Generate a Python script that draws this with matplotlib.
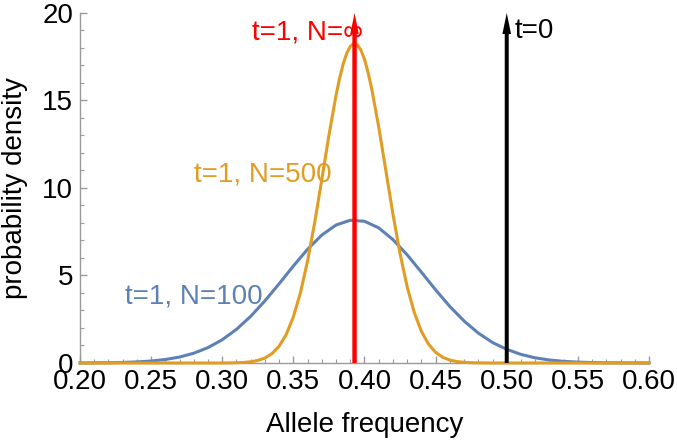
import numpy as np
import matplotlib.pyplot as plt
from matplotlib.ticker import MultipleLocator

plt.rcParams['font.family'] = ['Liberation Sans', 'DejaVu Sans']

# N=100 curve, sampled every 0.01
x100 = np.round(np.arange(0.20, 0.6001, 0.01), 3)
y100 = [0.003, 0.007, 0.015, 0.031, 0.060, 0.112, 0.199, 0.341, 0.559, 0.880,
        1.329, 1.922, 2.668, 3.551, 4.529, 5.543, 6.501, 7.311, 7.885, 8.155,
        8.100, 7.720, 7.050, 6.180, 5.190, 4.180, 3.230, 2.400, 1.710, 1.170,
        0.780, 0.490, 0.295, 0.170, 0.094, 0.050, 0.025, 0.012, 0.005, 0.002, 0.001]

# N=500 curve
x500 = [0.20, 0.29, 0.300, 0.305, 0.310, 0.315, 0.320, 0.325, 0.330, 0.335, 0.340,
        0.345, 0.350, 0.355, 0.360, 0.365, 0.370, 0.375, 0.380, 0.3825, 0.385,
        0.3875, 0.390, 0.3925, 0.395, 0.3975, 0.400, 0.4025, 0.405, 0.410, 0.415,
        0.420, 0.425, 0.430, 0.435, 0.440, 0.445, 0.450, 0.455, 0.460, 0.465,
        0.470, 0.475, 0.480, 0.485, 0.490, 0.50, 0.60]
y500 = [0.0, 0.0, 0.002, 0.005, 0.013, 0.031, 0.069, 0.144, 0.286, 0.539, 0.964,
        1.634, 2.635, 4.026, 5.840, 8.035, 10.49, 13.01, 15.30, 16.27, 17.08,
        17.69, 18.09, 18.26, 18.18, 17.88, 17.35, 16.61, 15.70, 13.49, 11.00,
        8.507, 6.245, 4.353, 2.880, 1.808, 1.076, 0.608, 0.326, 0.166, 0.080,
        0.037, 0.016, 0.007, 0.003, 0.001, 0.0, 0.0]

p_inf = 0.393   # t=1, N=infinity
p0 = 0.50       # t=0
ytop = 20

blue = '#5e81b5'
orange = '#e19c24'
gray = '#9a9a9a'
fs = 20

fig = plt.figure(figsize=(6.77, 4.45), dpi=100)
ax = fig.add_axes([0.1182, 0.1843, 0.8404, 0.7865])

ax.plot(x100, y100, color=blue, lw=2.2, clip_on=False, zorder=3)
ax.plot(x500, y500, color=orange, lw=2.2, clip_on=False, zorder=4)

# delta peaks drawn as arrows
ax.arrow(p_inf, 0, 0, ytop, width=0.0031, head_width=0.0060, head_length=1.2,
         length_includes_head=True, color='#ff0000', lw=0, clip_on=False, zorder=5)
ax.arrow(p0, 0, 0, ytop, width=0.0028, head_width=0.0061, head_length=1.2,
         length_includes_head=True, color='black', lw=0, clip_on=False, zorder=5)

ax.text(0.399, 18.5, 't=1, N=\u221e', color='#ff0000', fontsize=fs,
        ha='right', va='baseline', zorder=4)
ax.text(0.5055, 18.55, 't=0', color='black', fontsize=fs, ha='left', va='baseline')
ax.text(0.280, 10.36, 't=1, N=500', color=orange, fontsize=fs, ha='left', va='baseline')
ax.text(0.2316, 3.41, 't=1, N=100', color=blue, fontsize=fs, ha='left', va='baseline')

ax.set_xlim(0.20, 0.60)
ax.set_ylim(0, ytop)
ax.set_xticks(np.arange(0.20, 0.601, 0.05))
ax.set_xticklabels(['%.2f' % v for v in np.arange(0.20, 0.601, 0.05)])
ax.set_yticks([0, 5, 10, 15, 20])
ax.xaxis.set_minor_locator(MultipleLocator(0.01))
ax.yaxis.set_minor_locator(MultipleLocator(1))

for s in ['top', 'right']:
    ax.spines[s].set_visible(False)
for s in ['left', 'bottom']:
    ax.spines[s].set_color(gray)
    ax.spines[s].set_linewidth(1.0)

ax.tick_params(which='major', direction='in', length=5, width=1, color=gray,
               labelsize=fs, labelcolor='black')
ax.tick_params(axis='x', which='major', pad=4)
ax.tick_params(axis='y', which='major', pad=5)
ax.tick_params(which='minor', direction='in', length=3, width=0.8, color=gray)

ax.set_xlabel('Allele frequency', fontsize=fs)
ax.set_ylabel('probability density', fontsize=fs)
ax.xaxis.set_label_coords(0.5, -0.14)
ax.yaxis.set_label_coords(-0.0914, 0.5)

fig.savefig('out.png', dpi=100)
